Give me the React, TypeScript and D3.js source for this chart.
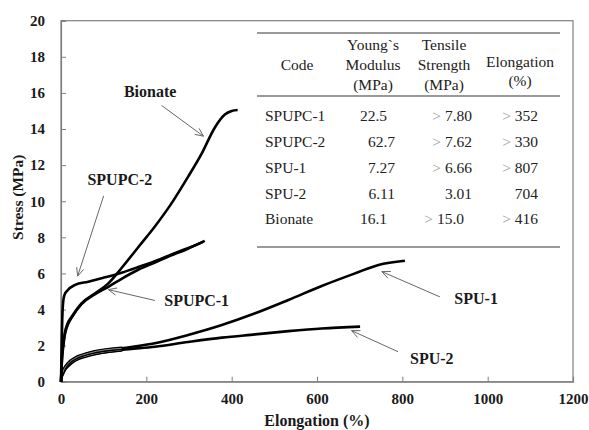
import React, { useEffect, useRef } from "react";
import * as d3 from "d3";

// stress-strain curves (elongation %, stress MPa)
const bionateStrain = [0, 2, 5, 9, 15, 25, 48, 80, 111, 142, 181, 220, 259, 298, 330, 361, 384, 400, 414];
const bionateStress = [0, 1.2, 2.0, 2.7, 3.2, 3.6, 4.34, 4.9, 5.45, 6.3, 7.45, 8.6, 9.88, 11.36, 12.65, 14.1, 14.8, 15.0, 15.05];

const spupc1Strain = [0, 2, 5, 9, 15, 25, 48, 80, 111, 142, 181, 220, 259, 291, 337];
const spupc1Stress = [0, 1.1, 1.9, 2.6, 3.1, 3.55, 4.3, 4.85, 5.26, 5.7, 6.2, 6.6, 7.0, 7.3, 7.8];

const spupc2Strain = [0, 1.5, 3, 5, 8, 15, 33, 64, 95, 142, 181, 220, 259, 300, 333];
const spupc2Stress = [0, 2, 3.5, 4.4, 4.8, 5.05, 5.36, 5.54, 5.73, 6.04, 6.35, 6.68, 7.05, 7.42, 7.75];

const spu1Strain = [0, 3, 8, 17, 33, 64, 142, 220, 298, 377, 455, 533, 611, 689, 744, 806];
const spu1Stress = [0, 0.45, 0.72, 1.02, 1.3, 1.57, 1.85, 2.13, 2.59, 3.14, 3.79, 4.53, 5.3, 6.0, 6.47, 6.7];

const spu2Strain = [0, 3, 8, 17, 33, 64, 142, 220, 298, 377, 455, 533, 611, 701];
const spu2Stress = [0, 0.4, 0.65, 0.9, 1.2, 1.46, 1.76, 1.94, 2.2, 2.44, 2.62, 2.8, 2.95, 3.05];

const xTicks = [0, 200, 400, 600, 800, 1000, 1200];
const yTicks = [0, 2, 4, 6, 8, 10, 12, 14, 16, 18, 20];

// table
const codes = ["SPUPC-1", "SPUPC-2", "SPU-1", "SPU-2", "Bionate"];
const modulus = ["22.5", "62.7", "7.27", "6.11", "16.1"];
const strength = ["> 7.80", "> 7.62", "> 6.66", "3.01", "> 15.0"];
const elongation = ["> 352", "> 330", "> 807", "704", "> 416"];

// label, text position, arrow from -> to (strain, stress)
const labels = [
  { text: "Bionate", at: [209, 16.1], from: [236, 15.3], to: [334, 13.6] },
  { text: "SPUPC-2", at: [138, 11.2], from: [100, 10.3], to: [39, 5.85] },
  { text: "SPUPC-1", at: [318, 4.5], from: [220, 4.5], to: [111, 5.1] },
  { text: "SPU-1", at: [973, 4.6], from: [888, 4.7], to: [752, 6.1] },
  { text: "SPU-2", at: [869, 1.3], from: [790, 1.66], to: [681, 2.83] },
];

export default function App() {
  const svgRef = useRef<SVGSVGElement>(null);

  useEffect(() => {
    const W = 589;
    const H = 430;
    const left = 61, right = 573, top = 20.7, bottom = 381.7;
    const font = "Liberation Serif, Times New Roman, serif";

    const svg = d3.select(svgRef.current);
    svg.selectAll("*").remove();
    svg.attr("width", W).attr("height", H);

    const x = d3.scaleLinear().domain([0, 1200]).range([left, right]);
    const y = d3.scaleLinear().domain([0, 20]).range([bottom, top]);

    // frame
    svg.append("rect")
      .attr("x", left).attr("y", top)
      .attr("width", right - left).attr("height", bottom - top)
      .attr("fill", "none").attr("stroke", "#808080").attr("stroke-width", 1.2);

    // ticks pointing inward
    const xAxis = d3.axisBottom(x).tickValues(xTicks).tickFormat(d3.format("d")).tickSize(-5).tickPadding(12);
    const gx = svg.append("g").attr("transform", `translate(0,${bottom})`).call(xAxis);
    const yAxis = d3.axisLeft(y).tickValues(yTicks).tickFormat(d3.format("d")).tickSize(-5).tickPadding(16);
    const gy = svg.append("g").attr("transform", `translate(${left},0)`).call(yAxis);

    [gx, gy].forEach((g) => {
      g.select(".domain").attr("stroke", "#808080").attr("stroke-width", 1.2);
      g.selectAll(".tick line").attr("stroke", "#808080");
      g.selectAll(".tick text")
        .style("font-family", font)
        .attr("font-weight", "bold")
        .attr("font-size", 15)
        .attr("fill", "#1a1a1a");
    });

    // axis titles
    svg.append("text")
      .attr("x", (left + right) / 2).attr("y", 426)
      .attr("text-anchor", "middle")
      .style("font-family", font).attr("font-weight", "bold").attr("font-size", 16)
      .attr("fill", "#1a1a1a")
      .text("Elongation (%)");
    svg.append("text")
      .attr("transform", `translate(23,${(top + bottom) / 2 - 4}) rotate(-90)`)
      .attr("text-anchor", "middle")
      .style("font-family", font).attr("font-weight", "bold").attr("font-size", 15.5)
      .attr("fill", "#1a1a1a")
      .text("Stress (MPa)");

    // curves
    const line = d3.line<[number, number]>()
      .x((d) => x(d[0]))
      .y((d) => y(d[1]))
      .curve(d3.curveMonotoneX);

    const series: [number[], number[], boolean][] = [
      [spu2Strain, spu2Stress, true],
      [spu1Strain, spu1Stress, true],
      [spupc2Strain, spupc2Stress, false],
      [spupc1Strain, spupc1Stress, false],
      [bionateStrain, bionateStress, false],
    ];
    series.forEach(([xs, ys, doubled]) => {
      const pts = xs.map((v, i) => [v, ys[i]] as [number, number]);
      svg.append("path")
        .attr("d", line(pts))
        .attr("fill", "none")
        .attr("stroke", "#000")
        .attr("stroke-width", 2.6)
        .attr("stroke-linejoin", "round");
      if (doubled) {
        // overlapping specimens: two black traces with a grey gap at the start
        const early = pts.filter((p) => p[0] > 0 && p[0] <= 142);
        svg.append("path")
          .attr("d", line(early))
          .attr("fill", "none").attr("stroke", "#000").attr("stroke-width", 3.4)
          .attr("stroke-linecap", "round");
        svg.append("path")
          .attr("d", line(early))
          .attr("fill", "none").attr("stroke", "#9a9a9a").attr("stroke-width", 0.9);
      }
    });

    // annotations
    labels.forEach((l) => {
      svg.append("text")
        .attr("x", x(l.at[0])).attr("y", y(l.at[1]))
        .attr("dy", "0.35em")
        .attr("text-anchor", "middle")
        .style("font-family", font).attr("font-weight", "bold").attr("font-size", 16)
        .attr("fill", "#1a1a1a")
        .text(l.text);
      const x1 = x(l.from[0]), y1 = y(l.from[1]);
      const x2 = x(l.to[0]), y2 = y(l.to[1]);
      const ang = Math.atan2(y1 - y2, x1 - x2);
      const len = 9, spread = 0.42;
      svg.append("line")
        .attr("x1", x1).attr("y1", y1).attr("x2", x2).attr("y2", y2)
        .attr("stroke", "#666").attr("stroke-width", 1);
      svg.append("path")
        .attr("d",
          `M${x2 + len * Math.cos(ang + spread)},${y2 + len * Math.sin(ang + spread)}` +
          `L${x2},${y2}` +
          `L${x2 + len * Math.cos(ang - spread)},${y2 + len * Math.sin(ang - spread)}`)
        .attr("fill", "none").attr("stroke", "#666").attr("stroke-width", 1);
    });

    // table
    const tbl = svg.append("g")
      .style("font-family", font).attr("font-size", 15.5).attr("fill", "#222");
    [33, 96, 247].forEach((ry) => {
      tbl.append("line")
        .attr("x1", 257).attr("x2", 560).attr("y1", ry).attr("y2", ry)
        .attr("stroke", "#777").attr("stroke-width", 1.6);
    });

    const head = [
      { cx: 297, lines: ["Code"], ys: [65] },
      { cx: 373, lines: ["Young`s", "Modulus", "(MPa)"], ys: [45, 65, 85] },
      { cx: 444, lines: ["Tensile", "Strength", "(MPa)"], ys: [45, 65, 85] },
      { cx: 520, lines: ["Elongation", "(%)"], ys: [62, 81] },
    ];
    head.forEach((h) => {
      h.lines.forEach((t, i) => {
        tbl.append("text")
          .attr("x", h.cx).attr("y", h.ys[i]).attr("dy", "0.35em")
          .attr("text-anchor", "middle")
          .text(t);
      });
    });

    const rowY = d3.scaleLinear().domain([0, 4]).range([116, 219]);
    const modRight = [387, 395, 395, 395, 387];
    const strRight = [472, 472, 472, 472, 464];

    const cell = (txt: string, xr: number, yy: number) => {
      const t = tbl.append("text")
        .attr("x", xr).attr("y", yy).attr("dy", "0.35em")
        .attr("text-anchor", "end");
      if (txt.startsWith(">")) {
        t.append("tspan").attr("fill", "#999").text("> ");
        t.append("tspan").text(txt.slice(2));
      } else {
        t.text(txt);
      }
    };

    codes.forEach((c, i) => {
      const yy = rowY(i);
      tbl.append("text").attr("x", 265).attr("y", yy).attr("dy", "0.35em").text(c);
      cell(modulus[i], modRight[i], yy);
      cell(strength[i], strRight[i], yy);
      cell(elongation[i], 538, yy);
    });
  }, []);

  return (
    <div style={{ position: "absolute", left: 0, top: 0, background: "#fff" }}>
      <svg ref={svgRef}></svg>
    </div>
  );
}
